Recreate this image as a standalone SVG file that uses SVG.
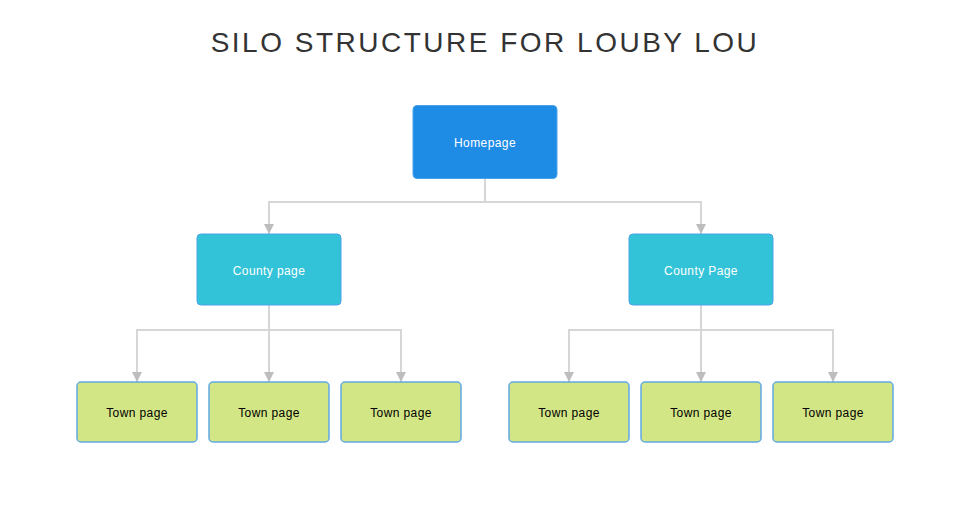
<svg xmlns="http://www.w3.org/2000/svg" width="953" height="509" viewBox="0 0 953 509">
<defs>
<marker id="arr" viewBox="0 0 10 10" refX="10" refY="5" markerWidth="10" markerHeight="10" markerUnits="userSpaceOnUse" orient="auto">
<path d="M0,0 L10,5 L0,10 z" fill="#bdbdbd"/>
</marker>
<style>
.title{font-family:"Liberation Sans",Arial,sans-serif;font-size:28px;letter-spacing:2.5px;fill:#333333}
.lbl{font-family:"Liberation Sans",Arial,sans-serif;font-size:12px;letter-spacing:0.4px;text-anchor:middle;dominant-baseline:central}
.home{fill:#1e8be5;stroke:#4aa3ea;stroke-width:1}
.county{fill:#33c3d8;stroke:#4aa3ea;stroke-width:1}
.town{fill:#d3e686;stroke:#5fa9e4;stroke-width:1.5}
.w{fill:#ffffff}
.b{fill:#000000}
.c{fill:none;stroke:#d6d6d6;stroke-width:2;marker-end:url(#arr)}
.cn{fill:none;stroke:#d6d6d6;stroke-width:2}
</style>
</defs>
<rect width="953" height="509" fill="#ffffff"/>
<text class="title" x="485" y="52" text-anchor="middle">SILO STRUCTURE FOR LOUBY LOU</text>
<g id="connectors">
<path class="cn" d="M485,178 V202"/>
<path class="c" d="M485,202 H269 V234"/>
<path class="c" d="M485,202 H701 V234"/>
<path class="cn" d="M269,305 V330"/>
<path class="c" d="M269,330 H137 V382"/>
<path class="c" d="M269,330 V382"/>
<path class="c" d="M269,330 H401 V382"/>
<path class="cn" d="M701,305 V330"/>
<path class="c" d="M701,330 H569 V382"/>
<path class="c" d="M701,330 V382"/>
<path class="c" d="M701,330 H833 V382"/>
</g>
<g id="homepage">
<rect class="home" x="413" y="105.5" width="144" height="73" rx="4"/>
<text class="lbl w" x="485" y="142.5">Homepage</text>
</g>
<g id="county1">
<rect class="county" x="197" y="234" width="144" height="71" rx="4"/>
<text class="lbl w" x="269" y="270.5">County page</text>
</g>
<g id="county2">
<rect class="county" x="629" y="234" width="144" height="71" rx="4"/>
<text class="lbl w" x="701" y="270.5">County Page</text>
</g>
<g id="town1">
<rect class="town" x="77" y="382" width="120" height="60" rx="4"/>
<text class="lbl b" x="137" y="412.5">Town page</text>
</g>
<g id="town2">
<rect class="town" x="209" y="382" width="120" height="60" rx="4"/>
<text class="lbl b" x="269" y="412.5">Town page</text>
</g>
<g id="town3">
<rect class="town" x="341" y="382" width="120" height="60" rx="4"/>
<text class="lbl b" x="401" y="412.5">Town page</text>
</g>
<g id="town4">
<rect class="town" x="509" y="382" width="120" height="60" rx="4"/>
<text class="lbl b" x="569" y="412.5">Town page</text>
</g>
<g id="town5">
<rect class="town" x="641" y="382" width="120" height="60" rx="4"/>
<text class="lbl b" x="701" y="412.5">Town page</text>
</g>
<g id="town6">
<rect class="town" x="773" y="382" width="120" height="60" rx="4"/>
<text class="lbl b" x="833" y="412.5">Town page</text>
</g>
</svg>
